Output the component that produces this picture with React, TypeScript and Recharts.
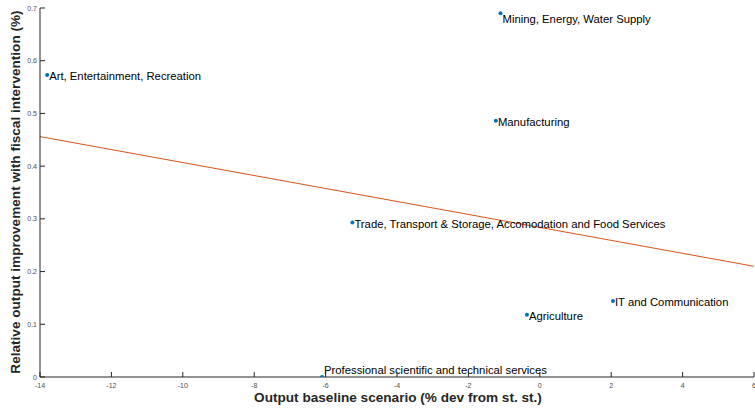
import React from 'react';
import { ComposedChart, Scatter, Line, XAxis, YAxis } from 'recharts';

const sectors = [
  'Art, Entertainment, Recreation',
  'Mining, Energy, Water Supply',
  'Manufacturing',
  'Trade, Transport & Storage, Accomodation and Food Services',
  'IT and Communication',
  'Agriculture',
  'Professional scientific and technical services',
];
const baseline = [-13.8, -1.1, -1.23, -5.25, 2.05, -0.36, -6.1];
const improvement = [0.573, 0.69, 0.486, 0.293, 0.144, 0.118, 0.0];

const fitX = [-14, 6];
const fitY = [0.456, 0.21];

const xTicks = [-14, -12, -10, -8, -6, -4, -2, 0, 2, 4, 6];
const yTicks = [0, 0.1, 0.2, 0.3, 0.4, 0.5, 0.6, 0.7];

const points = sectors.map((name, i) => ({ name, x: baseline[i], y: improvement[i] }));
const fit = fitX.map((x, i) => ({ x, fy: fitY[i] }));

// label nudges (px) where the original text sits off the marker
const labelDy: Record<string, number> = {
  'Mining, Energy, Water Supply': 5,
  'Professional scientific and technical services': -8,
};

const AXIS = '#262626';
const TICK_TEXT = '#4d4d4d';
const FONT = '"Liberation Sans", Arial, sans-serif';

const BottomTick = (props: any) => {
  const { x, y, payload } = props;
  return (
    <g>
      <line x1={x} x2={x} y1={y} y2={y - 5} stroke={AXIS} />
      <text x={x} y={y + 11} textAnchor="middle" fontSize={7} fill={TICK_TEXT} fontFamily={FONT}>
        {payload.value}
      </text>
    </g>
  );
};

const TopTick = (props: any) => {
  const { x, y } = props;
  return <line x1={x} x2={x} y1={y} y2={y + 5} stroke={AXIS} />;
};

const LeftTick = (props: any) => {
  const { x, y, payload } = props;
  return (
    <g>
      <line x1={x} x2={x + 5} y1={y} y2={y} stroke={AXIS} />
      <text x={x - 3} y={y + 2.5} textAnchor="end" fontSize={7} fill={TICK_TEXT} fontFamily={FONT}>
        {payload.value}
      </text>
    </g>
  );
};

const RightTick = (props: any) => {
  const { x, y } = props;
  return <line x1={x} x2={x - 5} y1={y} y2={y} stroke={AXIS} />;
};

const Dot = (props: any) => {
  const { cx, cy, payload } = props;
  const dy = labelDy[payload.name] ?? 0;
  return (
    <g>
      <circle cx={cx} cy={cy} r={2} fill="#0072BD" />
      <text x={cx + 2} y={cy + dy + 5} fontSize={11.3} fill="#000" fontFamily={FONT}>
        {payload.name}
      </text>
    </g>
  );
};

export default function App() {
  return (
    <div style={{ position: 'absolute', left: 0, top: 0, width: 755, height: 408, background: '#fff' }}>
      <ComposedChart width={755} height={408} margin={{ top: 8, right: 1, bottom: 0, left: 0 }}>
        <XAxis
          xAxisId="b"
          dataKey="x"
          type="number"
          domain={[-14, 6]}
          ticks={xTicks}
          allowDataOverflow
          height={31}
          stroke={AXIS}
          tickLine={false}
          tickSize={0}
          tickMargin={0}
          tick={<BottomTick />}
          interval={0}
        />
        <XAxis
          xAxisId="t"
          orientation="top"
          dataKey="x"
          type="number"
          domain={[-14, 6]}
          ticks={xTicks}
          height={0}
          stroke={AXIS}
          tickLine={false}
          tickSize={0}
          tickMargin={0}
          tick={<TopTick />}
          interval={0}
        />
        <YAxis
          yAxisId="l"
          type="number"
          domain={[0, 0.7]}
          ticks={yTicks}
          allowDataOverflow
          width={40}
          stroke={AXIS}
          tickLine={false}
          tickSize={0}
          tickMargin={0}
          tick={<LeftTick />}
          interval={0}
        />
        <YAxis
          yAxisId="r"
          orientation="right"
          type="number"
          domain={[0, 0.7]}
          ticks={yTicks}
          width={0}
          stroke={AXIS}
          tickLine={false}
          tickSize={0}
          tickMargin={0}
          tick={<RightTick />}
          interval={0}
        />
        <Line
          xAxisId="b"
          yAxisId="l"
          data={fit}
          dataKey="fy"
          stroke="#D95319"
          strokeWidth={1}
          dot={false}
          activeDot={false}
          isAnimationActive={false}
        />
        <Scatter
          xAxisId="b"
          yAxisId="l"
          data={points}
          dataKey="y"
          shape={<Dot />}
          isAnimationActive={false}
        />
      </ComposedChart>
      <div
        style={{
          position: 'absolute',
          left: 398,
          top: 397,
          transform: 'translate(-50%, -50%)',
          whiteSpace: 'nowrap',
          fontFamily: FONT,
          fontWeight: 'bold',
          fontSize: 13.6,
          color: AXIS,
        }}
      >
        Output baseline scenario (% dev from st. st.)
      </div>
      <div
        style={{
          position: 'absolute',
          left: 15,
          top: 192,
          transform: 'translate(-50%, -50%) rotate(-90deg)',
          whiteSpace: 'nowrap',
          fontFamily: FONT,
          fontWeight: 'bold',
          fontSize: 13.6,
          color: AXIS,
        }}
      >
        Relative output improvement with fiscal intervention (%)
      </div>
    </div>
  );
}
